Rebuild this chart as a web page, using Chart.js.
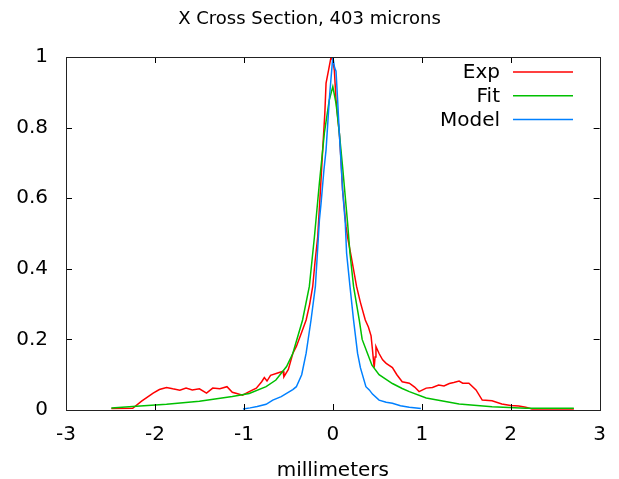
<!DOCTYPE html>
<html>
<head>
<meta charset="utf-8">
<script src="https://cdn.jsdelivr.net/npm/chart.js@4.4.0/dist/chart.umd.min.js"></script>
<style>
  html, body { margin: 0; padding: 0; background: #fff; }
  #wrap { width: 619px; height: 479px; }
</style>
</head>
<body>
<div id="wrap"><canvas id="c" width="619" height="479"></canvas></div>
<script>
// ---- data ----
const chartTitle = "X Cross Section, 403 microns";
const xAxisLabel = "millimeters";
const seriesNames = ["Exp", "Fit", "Model"];
const xTicks = [-3, -2, -1, 0, 1, 2, 3];
const yTicks = [0, 0.2, 0.4, 0.6, 0.8, 1];
const xTickLabels = ["-3", "-2", "-1", "0", "1", "2", "3"];
const yTickLabels = ["0", "0.2", "0.4", "0.6", "0.8", "1"];

const expX = [-2.49, -2.25, -2.15, -2.02, -1.95, -1.87, -1.80, -1.72, -1.65, -1.58, -1.50, -1.42, -1.35, -1.27, -1.19, -1.13, -1.07, -1.015, -0.94, -0.86, -0.80, -0.77, -0.74, -0.70, -0.62, -0.56, -0.55, -0.50, -0.45, -0.41, -0.35, -0.30, -0.26, -0.226, -0.20, -0.17, -0.14, -0.114, -0.09, -0.076, -0.05, -0.02, 0.0, 0.017, 0.036, 0.055, 0.073, 0.092, 0.11, 0.13, 0.148, 0.166, 0.21, 0.267, 0.31, 0.365, 0.40, 0.43, 0.446, 0.465, 0.475, 0.485, 0.52, 0.56, 0.60, 0.67, 0.72, 0.78, 0.86, 0.92, 0.97, 1.05, 1.12, 1.19, 1.25, 1.31, 1.36, 1.42, 1.46, 1.53, 1.61, 1.68, 1.79, 1.90, 2.00, 2.09, 2.17, 2.24, 2.71];
const expY = [0.004, 0.005, 0.025, 0.048, 0.058, 0.064, 0.060, 0.056, 0.062, 0.057, 0.060, 0.048, 0.062, 0.060, 0.066, 0.050, 0.046, 0.042, 0.052, 0.062, 0.080, 0.092, 0.082, 0.098, 0.105, 0.110, 0.094, 0.115, 0.16, 0.18, 0.22, 0.255, 0.30, 0.35, 0.42, 0.49, 0.62, 0.737, 0.84, 0.926, 0.96, 1.0, 0.99, 0.963, 0.878, 0.83, 0.785, 0.708, 0.623, 0.57, 0.52, 0.49, 0.43, 0.35, 0.305, 0.255, 0.235, 0.21, 0.17, 0.12, 0.15, 0.18, 0.16, 0.142, 0.132, 0.12, 0.10, 0.08, 0.076, 0.065, 0.052, 0.062, 0.064, 0.071, 0.068, 0.075, 0.078, 0.082, 0.076, 0.076, 0.057, 0.028, 0.026, 0.017, 0.013, 0.011, 0.008, 0.003, 0.003];

const fitX = [-2.49, -2.25, -1.87, -1.5, -1.13, -0.94, -0.75, -0.64, -0.52, -0.45, -0.34, -0.264, -0.207, -0.151, -0.095, -0.04, 0.0, 0.036, 0.073, 0.11, 0.166, 0.193, 0.233, 0.297, 0.33, 0.39, 0.44, 0.52, 0.67, 0.78, 0.86, 1.05, 1.42, 1.79, 2.17, 2.71];
const fitY = [0.006, 0.010, 0.016, 0.025, 0.038, 0.047, 0.066, 0.085, 0.123, 0.16, 0.255, 0.35, 0.49, 0.643, 0.785, 0.878, 0.916, 0.869, 0.785, 0.689, 0.53, 0.444, 0.35, 0.255, 0.20, 0.16, 0.127, 0.10, 0.075, 0.061, 0.052, 0.034, 0.017, 0.009, 0.005, 0.005];

const modelX = [-1.01, -0.93, -0.85, -0.75, -0.675, -0.58, -0.52, -0.45, -0.41, -0.35, -0.30, -0.245, -0.196, -0.151, -0.132, -0.10, -0.076, -0.04, -0.02, 0.0, 0.02, 0.036, 0.054, 0.073, 0.11, 0.14, 0.155, 0.193, 0.233, 0.278, 0.31, 0.372, 0.41, 0.446, 0.52, 0.60, 0.67, 0.76, 0.86, 0.99];
const modelY = [0.003, 0.006, 0.010, 0.016, 0.028, 0.038, 0.047, 0.058, 0.066, 0.10, 0.161, 0.255, 0.35, 0.538, 0.586, 0.68, 0.737, 0.878, 0.94, 1.0, 0.97, 0.96, 0.878, 0.785, 0.623, 0.53, 0.444, 0.35, 0.255, 0.161, 0.12, 0.066, 0.057, 0.045, 0.028, 0.022, 0.019, 0.012, 0.008, 0.004];

const colors = ["#ff0000", "#00c000", "#0080ff"];

// ---- build ----
const pts = (xs, ys) => xs.map((x, i) => ({ x: x, y: ys[i] }));
const FONT = "'DejaVu Sans', sans-serif";

const frameTicks = {
  id: 'frameTicks',
  afterDatasetsDraw(chart) {
    const { ctx, chartArea: a, scales } = chart;
    ctx.save();
    ctx.strokeStyle = '#000';
    ctx.lineWidth = 1;
    const L = 6;
    ctx.beginPath();
    xTicks.forEach(v => {
      const x = Math.round(scales.x.getPixelForValue(v)) + 0.5;
      ctx.moveTo(x, a.bottom); ctx.lineTo(x, a.bottom - L);
      ctx.moveTo(x, a.top); ctx.lineTo(x, a.top + L);
    });
    yTicks.forEach(v => {
      const y = Math.round(scales.y.getPixelForValue(v)) + 0.5;
      ctx.moveTo(a.left, y); ctx.lineTo(a.left + L, y);
      ctx.moveTo(a.right, y); ctx.lineTo(a.right - L, y);
    });
    ctx.stroke();
    ctx.strokeStyle = '#222';
    ctx.strokeRect(Math.round(a.left) + 0.5, Math.round(a.top) + 0.5, Math.round(a.right - a.left), Math.round(a.bottom - a.top));
    // legend (gnuplot style: right aligned text, sample line to the right)
    ctx.font = "20px " + FONT;
    ctx.textAlign = 'right';
    ctx.textBaseline = 'middle';
    chart.data.datasets.forEach((ds, i) => {
      const y = a.top + 15 + i * 23.8;
      ctx.fillStyle = '#000';
      ctx.fillText(ds.label, a.left + 434, y + 1);
      ctx.strokeStyle = ds.borderColor;
      ctx.lineWidth = 1.5;
      ctx.beginPath();
      ctx.moveTo(a.left + 447, y); ctx.lineTo(a.left + 507, y);
      ctx.stroke();
    });
    ctx.restore();
  }
};

new Chart(document.getElementById('c'), {
  type: 'scatter',
  data: {
    datasets: [
      { label: seriesNames[0], data: pts(expX, expY), borderColor: colors[0], backgroundColor: colors[0], showLine: true, pointRadius: 0, borderWidth: 1.5, order: 3 },
      { label: seriesNames[1], data: pts(fitX, fitY), borderColor: colors[1], backgroundColor: colors[1], showLine: true, pointRadius: 0, borderWidth: 1.5, order: 2 },
      { label: seriesNames[2], data: pts(modelX, modelY), borderColor: colors[2], backgroundColor: colors[2], showLine: true, pointRadius: 0, borderWidth: 1.5, order: 1 }
    ]
  },
  options: {
    responsive: false,
    animation: false,
    layout: { padding: { left: 0, right: 0, top: 0, bottom: 0 } },
    plugins: {
      legend: { display: false },
      tooltip: { enabled: false },
      title: {
        display: true, text: chartTitle, color: '#000',
        font: { family: FONT, size: 18, weight: 'normal' },
        padding: { top: 9, bottom: 26.4 }
      }
    },
    scales: {
      x: {
        type: 'linear', min: -3, max: 3,
        afterBuildTicks: s => { s.ticks = xTicks.map(v => ({ value: v })); },
        afterFit: s => { s.height = 69; },
        grid: { display: false, drawTicks: false },
        border: { display: false },
        ticks: { color: '#000', padding: 13, font: { family: FONT, size: 20 }, maxRotation: 0,
                 callback: (v, i) => xTickLabels[i] },
        title: { display: true, text: xAxisLabel, color: '#000', font: { family: FONT, size: 20 }, padding: { top: 0, bottom: -4 } }
      },
      y: {
        type: 'linear', min: 0, max: 1,
        afterBuildTicks: s => { s.ticks = yTicks.map(v => ({ value: v })); },
        afterFit: s => { s.width = 66; },
        grid: { display: false, drawTicks: false },
        border: { display: false },
        ticks: { color: '#000', padding: 18, font: { family: FONT, size: 20 },
                 callback: (v, i) => yTickLabels[i] }
      },
      yRight: {
        type: 'linear', position: 'right', min: 0, max: 1,
        afterFit: s => { s.width = 18; },
        grid: { display: false, drawTicks: false },
        border: { display: false },
        ticks: { display: false }
      }
    }
  },
  plugins: [frameTicks]
});
</script>
</body>
</html>
